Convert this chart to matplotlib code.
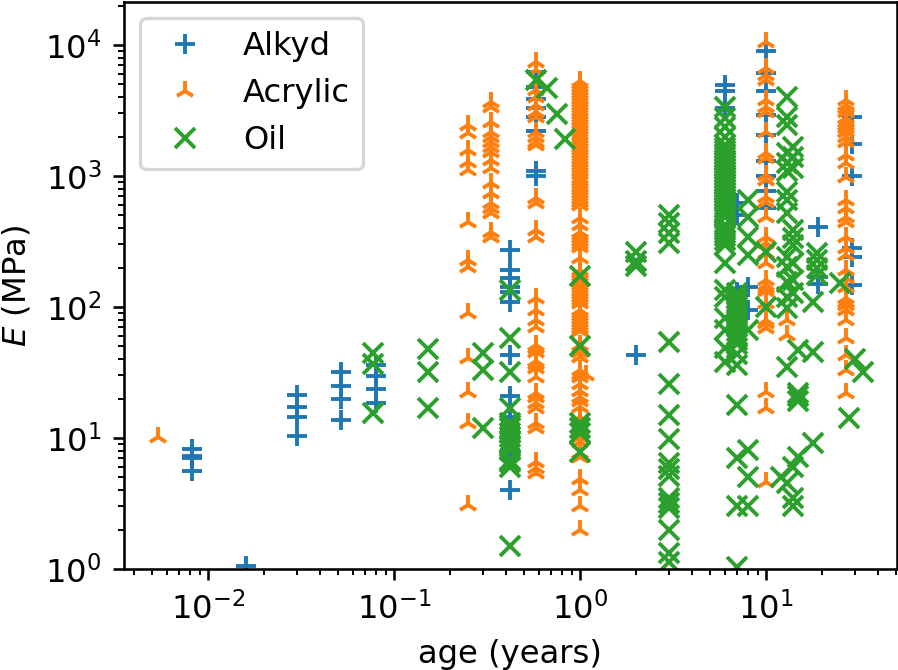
import matplotlib
matplotlib.use("Agg")
import matplotlib.pyplot as plt

# each entry: age in years, then the E values (MPa) measured at that age
alkyd = [
    (0.0082, [8.2, 7.3, 7.0, 5.6]),
    (0.016, [1.05]),
    (0.03, [21.3, 17.3, 14.5, 10.4]),
    (0.052, [31.9, 24.9, 19.8, 13.7]),
    (0.08, [36, 29.7, 23.7, 18.5]),
    (0.42, [272, 191, 167, 142, 130, 109, 43, 21, 14.5, 12.1, 8.1, 4.0]),
    (0.58, [6200, 4800, 3870, 3300, 2820, 2200, 1090, 1000]),
    (2, [43]),
    (6, [4950, 4470, 3300]),
    (7, [622, 500, 130, 90]),
    (8, [142, 95]),
    (10, [9000, 6100, 4470, 2920, 2060, 1300, 1000, 770, 570]),
    (19, [408, 170, 150]),
    (29, [2820, 1750, 1000, 282, 240, 147]),
]

acrylic = [
    (0.0054, [10.1]),
    (0.25, [2450, 2130, 1580, 1280, 1110, 445, 228, 202, 90, 41, 22.4, 13, 3.1]),
    (0.33, [3670, 3360, 2580, 2170, 1990, 1820, 1660, 1530, 1320, 1150, 885, 741,
            622, 570, 522, 374, 342]),
    (0.58, [7400, 6440, 4530, 4010, 3480, 3080, 2820, 2170, 1990, 1820, 1725, 679,
            622, 387, 342, 117, 95, 80, 70, 51, 49, 45, 39, 37, 34, 29, 22, 20.6,
            18.5, 17, 13, 12, 6.6, 5.9, 5.4]),
    (1, [5310, 5040, 4780, 4530, 4300, 4080, 3870, 3670, 3480, 3300, 3130, 2970,
         2820, 2680, 2540, 2410, 2280, 2170, 2060, 1950, 1850, 1760, 1670, 1580,
         1500, 1420, 1350, 1280, 1210, 1150, 1090, 1040, 966, 916, 869, 824, 782,
         742, 704, 667, 633, 600, 478, 423, 374, 355, 337, 319, 303, 287, 237,
         191, 181, 172, 163, 155, 147, 139, 132, 126, 119, 113, 107, 95, 90, 85,
         81, 77, 73, 69, 66, 51, 49, 45, 41.5, 33, 31, 29, 26, 23, 20.6, 19,
         17.3, 14.5, 13.2, 12.1, 11.1, 10.2, 9.3, 7.7, 7.2, 4.9, 4.0, 3.0, 2.0]),
    (1.07, [30]),
    (10, [10500, 6670, 5900, 5400, 3800, 3360, 3080, 2170, 1500, 1370, 1020, 932,
          692, 634, 487, 342, 308, 258, 217, 161, 147, 139, 132, 107, 80, 76, 69,
          22.4, 17, 4.6]),
    (12.9, [80, 61]),
    (27, [3800, 3480, 3300, 3080, 2770, 2580, 2450, 2330, 2170, 1990, 1820, 1450,
          1260, 980, 656, 570, 487, 445, 342, 282, 250, 191, 167, 142, 117, 109,
          103, 95, 80, 58, 43, 33, 22]),
]

oil = [
    (0.077, [44.5, 37, 15.5]),
    (0.152, [47.8, 31.9, 17]),
    (0.30, [44.5, 33, 11.9]),
    (0.42, [135, 58, 32, 17, 13, 12, 10.9, 10.2, 9.3, 8.5, 8.1, 6.8, 6.6, 6, 1.5]),
    (0.58, [5400]),
    (0.665, [4700]),
    (0.75, [2970]),
    (0.83, [1915]),
    (1, [172, 50, 13, 12, 11, 7.8]),
    (2, [263, 226, 205]),
    (3, [504, 438, 367, 308, 54, 26, 15, 9.8, 6.4, 5.8, 5.1, 3.5, 3.2, 2.9, 2, 1.32, 1.13]),
    (6, [3360, 2770, 2370, 1990, 1725, 1636, 1552, 1472, 1397, 1325, 1257, 1192,
         1131, 1073, 1018, 966, 916, 869, 824, 782, 742, 704, 667, 633, 600, 570,
         540, 513, 486, 423, 388, 368, 349, 325, 296, 217, 135, 119, 82, 67, 49,
         38]),
    (7, [128, 118, 109, 100, 92, 85, 78, 72, 66, 61, 56, 52, 44, 36, 18, 7, 3, 1.03]),
    (8, [656, 487, 342, 250, 67, 8.1, 5, 3]),
    (10, [263, 100]),
    (12, [5]),
    (12.9, [4000, 2820, 2450, 1500, 1260, 1100, 755, 656, 522, 240, 202, 155, 119, 98,
            35, 4.5]),
    (13.9, [1660, 1390, 1150, 387, 337, 296, 217, 161, 128, 6, 3.5, 3]),
    (14.8, [47, 22, 21, 19, 7.2]),
    (17.9, [109, 45, 9.1]),
    (18.8, [258, 230, 200, 175]),
    (25, [152]),
    (28, [14.2]),
    (30, [40]),
    (33, [32]),
]


def flatten(columns):
    ages = []
    moduli = []
    for age, values in columns:
        ages += [age] * len(values)
        moduli += values
    return ages, moduli


fig = plt.figure(figsize=(898 / 232, 670 / 232), dpi=232)
ax = fig.add_axes([124 / 898, 1 - 569 / 670, 773 / 898, 567 / 670])

style = dict(linestyle="none", markersize=6.3, markeredgewidth=1.2)
ax.plot(*flatten(alkyd), marker="+", label="Alkyd", **style)
ax.plot(*flatten(acrylic), marker="2", label="Acrylic", **style)
ax.plot(*flatten(oil), marker="x", label="Oil", **style)

ax.set_xscale("log")
ax.set_yscale("log")
ax.set_xlim(10 ** -2.452, 10 ** 1.704)
ax.set_ylim(1, 10 ** 4.328)
ax.set_xlabel("age (years)")
ax.set_ylabel("$E$ (MPa)")
ax.legend(loc="upper left")

fig.savefig("out.png", dpi=232)
